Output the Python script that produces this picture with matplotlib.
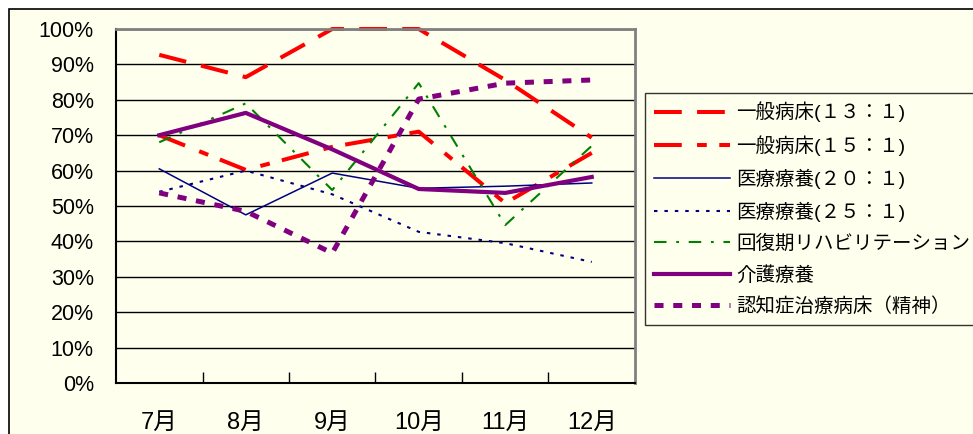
import matplotlib
matplotlib.use("Agg")
import matplotlib.pyplot as plt
from matplotlib.patches import Rectangle
import numpy as np

plt.rcParams['font.family'] = ['Liberation Sans', 'Noto Sans CJK JP', 'DejaVu Sans']
plt.rcParams['lines.scale_dashes'] = False

months = ["7月", "8月", "9月", "10月", "11月", "12月"]

# occupancy rates (%)
ippan13 = [92.7, 86.4, 100, 100, 85.6, 69.3]
ippan15 = [70.0, 60.2, 66.7, 71.0, 50.8, 65.0]
iryo20 = [60.5, 47.5, 59.3, 55.0, 55.6, 56.5]
iryo25 = [54.0, 60.0, 53.3, 42.7, 39.5, 34.2]
kaifuku = [68.0, 79.0, 54.5, 84.7, 44.6, 67.0]
kaigo = [70.0, 76.3, 66.0, 54.8, 53.7, 58.2]
ninchi = [53.7, 48.5, 36.7, 80.2, 84.7, 85.6]

labels = ["一般病床(１３：１)", "一般病床(１５：１)", "医療療養(２０：１)", "医療療養(２５：１)",
          "回復期リハビリテーション", "介護療養", "認知症治療病床（精神）"]

bg = "#FFFFEE"
W, H = 973, 434
fig = plt.figure(figsize=(W / 100, H / 100), dpi=100, facecolor="white")
fig.patches.append(Rectangle((9 / W, -0.1), 1.2, (H - 9) / H + 0.1, transform=fig.transFigure,
                             facecolor=bg, edgecolor="black", linewidth=1.2, zorder=-10))

ax = fig.add_axes([116 / W, (H - 383) / H, 519 / W, 354 / H])
ax.set_facecolor(bg)
x = np.arange(len(months))

ax.plot(x, ippan13, color="red", lw=2.9, dashes=(20, 11), clip_on=False, label=labels[0])
ax.plot(x, ippan15, color="red", lw=2.9, dashes=(20, 11, 7, 9), clip_on=False, label=labels[1])
ax.plot(x, iryo20, color="#000080", lw=1.1, clip_on=False, label=labels[2])
ax.plot(x, iryo25, color="#000080", lw=1.5, dashes=(2.5, 5), clip_on=False, label=labels[3])
ax.plot(x, kaifuku, color="#008000", lw=1.5, dashes=(9, 7, 2, 7), clip_on=False, label=labels[4])
ax.plot(x, kaigo, color="#800080", lw=3.0, clip_on=False, label=labels[5])
ax.plot(x, ninchi, color="#800080", lw=3.6, dashes=(6.5, 7), clip_on=False, label=labels[6])

ax.set_xlim(-0.5, len(months) - 0.5)
ax.set_ylim(0, 100)
ax.set_yticks(np.arange(0, 101, 10))
ax.set_yticklabels([f"{v}%" for v in range(0, 101, 10)], fontsize=15.5)
ax.set_xticks(x)
ax.set_xticklabels(months, fontsize=17)
ax.set_xticks(np.arange(0.5, len(months) - 1, 1), minor=True)
ax.tick_params(axis="x", which="major", length=0, pad=21)
ax.tick_params(axis="x", which="minor", direction="in", length=8, width=1)
ax.tick_params(axis="y", length=0, pad=16)
ax.grid(axis="y", color="black", lw=1)
ax.set_axisbelow(True)

for s in ["top", "right"]:
    ax.spines[s].set_color("#808080")
    ax.spines[s].set_linewidth(2)
for s in ["left", "bottom"]:
    ax.spines[s].set_color("black")
    ax.spines[s].set_linewidth(1.5)

leg = fig.legend(loc="upper left", bbox_to_anchor=(645 / W, 1 - 93 / H), borderaxespad=0,
                 fontsize=14, frameon=True, fancybox=False, facecolor=bg, edgecolor="black",
                 handlelength=3.9, handletextpad=0.35, labelspacing=0.66, borderpad=0.45)
leg.get_frame().set_linewidth(1)

fig.savefig("out.png", dpi=100, facecolor="white")
